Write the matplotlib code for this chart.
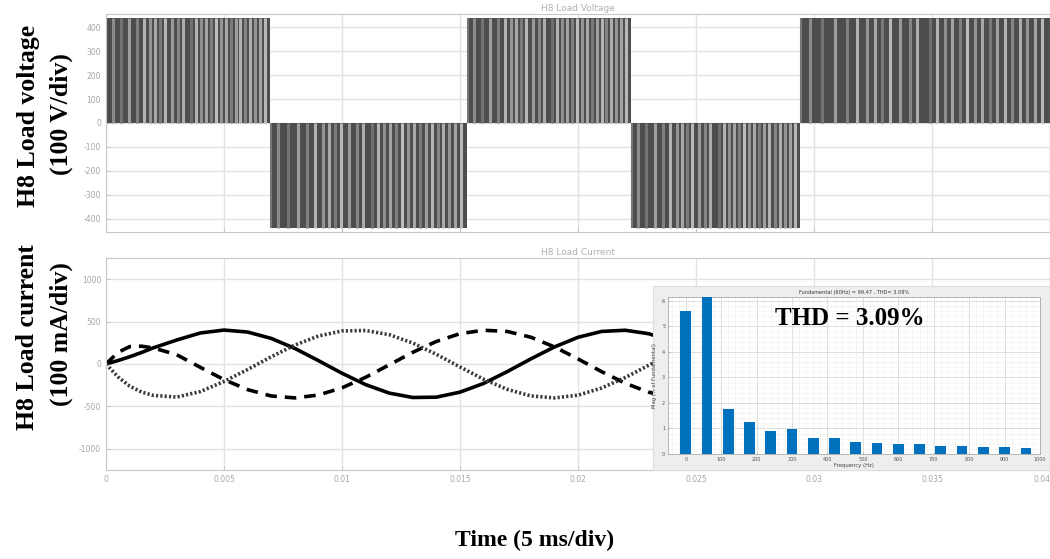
import numpy as np
import matplotlib.pyplot as plt
from matplotlib.patches import Rectangle

plt.rcParams["axes.unicode_minus"] = False

# ---- data ----
# H8 load voltage: polarity blocks (s) and level (V)
blk_edges = [0.0, 0.00695, 0.0153, 0.02225, 0.0294, 0.0400]
blk_level = [440, -440, 440, -440, 440]
# lighter switching stripes, as fraction of each block width, and their grey level
stripe_pos = [0.04, 0.09, 0.14, 0.19, 0.23, 0.27, 0.30, 0.33, 0.36, 0.40, 0.44, 0.47,
              0.52, 0.55, 0.58, 0.61, 0.64, 0.67, 0.70, 0.73, 0.76, 0.79, 0.82, 0.85,
              0.88, 0.91, 0.94, 0.97]
stripe_grey = [0.55, 0.45, 0.62, 0.50, 0.70, 0.58, 0.66, 0.48, 0.72, 0.60, 0.52, 0.68,
               0.44, 0.70, 0.56, 0.64, 0.50, 0.74, 0.58, 0.66, 0.48, 0.62, 0.70, 0.52,
               0.68, 0.58, 0.64, 0.72]

# H8 load current, three phases (mA)
t_ms = [0.0, 0.5, 1.0, 1.5, 2.0, 3.0, 4.0, 5.0, 6.0, 7.0, 8.0, 9.0, 10.0, 11.0, 12.0,
        13.0, 14.0, 15.0, 16.0, 17.0, 18.0, 19.0, 20.0, 21.0, 22.0, 23.0, 24.0]
i_solid = [0, 40, 85, 135, 190, 283, 366, 400, 377, 302, 184, 40, -109, -243, -343,
           -395, -391, -332, -229, -90, 60, 201, 315, 384, 398, 357, 265]
i_dash = [0, 135, 205, 210, 190, 109, -40, -184, -302, -377, -400, -366, -281, -157, -10,
          138, 266, 358, 398, 384, 316, 202, 60, -90, -227, -333, -391]
i_dot = [0, -150, -260, -330, -370, -390, -325, -206, -65, 85, 223, 330, 390, 395, 346,
         247, 114, -35, -179, -299, -376, -400, -368, -283, -160, -15, 133]

# FFT inset
fft_freq = [0, 60, 120, 180, 240, 300, 360, 420, 480, 540, 600, 660, 720, 780, 840, 900, 960]
fft_mag = [5.62, 6.5, 1.76, 1.27, 0.90, 0.98, 0.62, 0.62, 0.46, 0.42, 0.38, 0.38,
           0.31, 0.31, 0.27, 0.27, 0.24]

# ---- figure ----
fig = plt.figure(figsize=(10.5, 5.59), dpi=100)
tick_col = "#a5a5a5"
grid_col = "#e2e2e2"


def style_axes(ax):
    for sp in ax.spines.values():
        sp.set_color("#c8c8c8")
    ax.tick_params(direction="in", length=3, colors="#bdbdbd", labelcolor=tick_col,
                   labelsize=5.5, width=0.6)
    ax.grid(True, color=grid_col, lw=1.0)
    ax.set_axisbelow(True)


# top: voltage
ax1 = fig.add_axes([106 / 1050, 1 - 232 / 559, 944 / 1050, 218 / 559])
style_axes(ax1)
for k in range(len(blk_level)):
    a, b, lev = blk_edges[k], blk_edges[k + 1], blk_level[k]
    ax1.fill_between([a, b], 0, lev, color="#4d4d4d", lw=0)
    xs = [a + f * (b - a) for f in stripe_pos]
    ax1.vlines(xs, 0, lev, colors=[str(g) for g in stripe_grey], lw=2.2)
    ax1.vlines([a + 0.003 * (b - a)], 0, lev, colors="#777777", lw=1.5)
ax1.set_xlim(0, 0.04)
ax1.set_ylim(-455, 455)
ax1.set_yticks(np.arange(-400, 401, 100))
ax1.set_xticks(np.arange(0, 0.0401, 0.005))
ax1.set_xticklabels([])
ax1.set_title("H8 Load Voltage", fontsize=6.5, color="#b0b0b0", pad=2.5)

# bottom: current
ax2 = fig.add_axes([106 / 1050, 1 - 470 / 559, 944 / 1050, 212 / 559])
style_axes(ax2)
t_s = np.array(t_ms) / 1000.0
ax2.plot(t_s, i_solid, color="black", lw=2.6, solid_capstyle="round")
ax2.plot(t_s, i_dash, color="black", lw=2.6, ls=(0, (3.2, 2.2)))
ax2.plot(t_s, i_dot, color="#3a3a3a", lw=2.6, ls=(0, (0.6, 0.6)))
ax2.set_xlim(0, 0.04)
ax2.set_ylim(-1250, 1250)
ax2.set_yticks([-1000, -500, 0, 500, 1000])
ax2.set_xticks(np.arange(0, 0.0401, 0.005))
ax2.set_xticklabels(["0", "0.005", "0.01", "0.015", "0.02", "0.025", "0.03", "0.035", "0.04"])
ax2.get_xticklabels()[-1].set_horizontalalignment("right")
ax2.set_title("H8 Load Current", fontsize=6.5, color="#b0b0b0", pad=2)

# inset panel (grey MATLAB figure background)
fig.patches.append(Rectangle((653 / 1050, 1 - 470 / 559), 397 / 1050, 184 / 559,
                             transform=fig.transFigure, facecolor="#eeeeee",
                             edgecolor="#dddddd", lw=0.8, zorder=5))
ax3 = fig.add_axes([668 / 1050, 1 - 454 / 559, 372 / 1050, 157 / 559], zorder=6)
ax3.bar(fft_freq, fft_mag, width=30, color="#0072BD", zorder=3)
ax3.set_xlim(-50, 1000)
ax3.set_ylim(0, 6.15)
ax3.set_xticks(np.arange(0, 1001, 100))
ax3.set_yticks(np.arange(0, 7, 1))
ax3.minorticks_on()
ax3.grid(True, which="major", color="#d8d8d8", lw=0.6)
ax3.grid(True, which="minor", color="#eeeeee", lw=0.4)
ax3.set_axisbelow(True)
for sp in ax3.spines.values():
    sp.set_color("#aaaaaa")
    sp.set_linewidth(0.6)
ax3.tick_params(which="both", direction="in", labelsize=3.5, labelcolor="#555555",
                colors="#999999", length=1.5, width=0.4, pad=2)
ax3.tick_params(which="minor", length=0)
ax3.set_title("Fundamental (60Hz) = 99.47 , THD= 3.09%", fontsize=3.6, pad=2, color="#333333")
ax3.set_xlabel("Frequency (Hz)", fontsize=3.8, labelpad=1, color="#444444")
ax3.set_ylabel("Mag (% of Fundamental)", fontsize=3.8, labelpad=4, color="#444444")
ax3.text(0.49, 0.86, "THD = 3.09%", transform=ax3.transAxes, ha="center", va="center",
         fontsize=18, fontweight="bold", family="Liberation Serif", color="black")

# axis labels
lab = dict(fontsize=18.5, fontweight="bold", family="Liberation Serif", rotation=90,
           ha="center", va="center")
fig.text(28 / 1050, 1 - 116 / 559, "H8 Load voltage", **lab)
fig.text(61 / 1050, 1 - 114 / 559, "(100 V/div)", **lab)
fig.text(28 / 1050, 1 - 337 / 559, "H8 Load current", **lab)
fig.text(61 / 1050, 1 - 334 / 559, "(100 mA/div)", **lab)
fig.text(535 / 1050, 1 - 540 / 559, "Time (5 ms/div)", fontsize=17, fontweight="bold",
         family="Liberation Serif", ha="center", va="center")

fig.savefig("out.png", dpi=100)
